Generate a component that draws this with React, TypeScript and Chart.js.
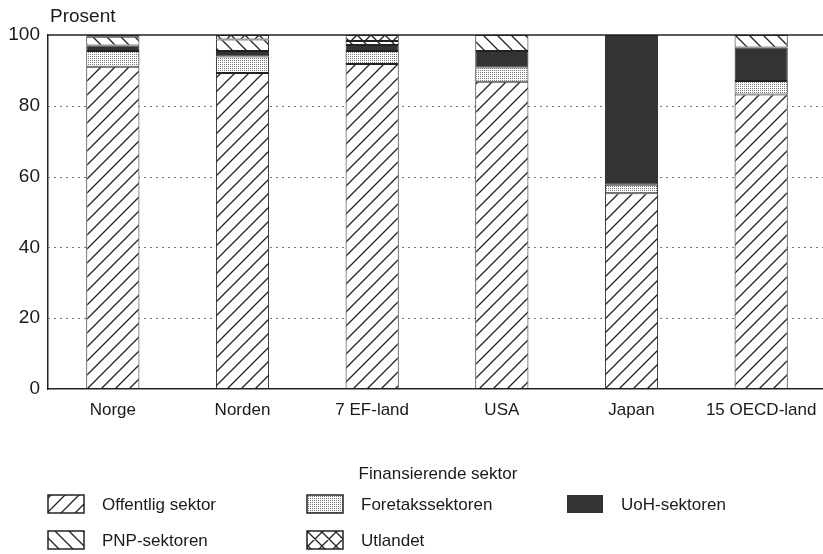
import React, { useEffect, useRef } from "react";
import { Chart, registerables } from "chart.js";
Chart.register(...registerables);

const categories = ["Norge", "Norden", "7 EF-land", "USA", "Japan", "15 OECD-land"];
const offentlig = [91.0, 89.3, 91.8, 86.8, 55.3, 83.2];
const foretak = [4.5, 4.6, 3.7, 4.0, 2.4, 3.8];
const uoh = [1.5, 1.6, 1.7, 4.7, 42.3, 9.5];
const pnp = [2.5, 3.2, 1.1, 4.5, 0, 3.5];
const utlandet = [0.5, 1.3, 1.7, 0, 0, 0];
const seriesNames = ["Offentlig sektor", "Foretakssektoren", "UoH-sektoren", "PNP-sektoren", "Utlandet"];
const yMin = 0;
const yMax = 100;
const yStep = 20;
const yAxisTitle = "Prosent";
const legendTitle = "Finansierende sektor";

const FONT = "'Liberation Sans', Arial, sans-serif";
const TEXT = "#1a1a1a";
const LINE = "#222";

function makePattern(kind: string): CanvasPattern | string {
  if (kind === "solid") return "#333";
  const c = document.createElement("canvas");
  const ctx = c.getContext("2d")!;
  if (kind === "dots") {
    c.width = 2; c.height = 2;
    ctx.fillStyle = "#fff"; ctx.fillRect(0, 0, 2, 2);
    ctx.fillStyle = "#777"; ctx.fillRect(0, 0, 1, 1);
    return ctx.createPattern(c, "repeat")!;
  }
  const s = 14;
  c.width = s; c.height = s;
  ctx.fillStyle = "#fff"; ctx.fillRect(0, 0, s, s);
  ctx.strokeStyle = "#222"; ctx.lineWidth = 1.3;
  ctx.beginPath();
  if (kind === "fwd" || kind === "cross") {
    ctx.moveTo(0, s); ctx.lineTo(s, 0);
    ctx.moveTo(-1, 1); ctx.lineTo(1, -1);
    ctx.moveTo(s - 1, s + 1); ctx.lineTo(s + 1, s - 1);
  }
  if (kind === "back" || kind === "cross") {
    ctx.moveTo(0, 0); ctx.lineTo(s, s);
    ctx.moveTo(-1, s - 1); ctx.lineTo(1, s + 1);
    ctx.moveTo(s - 1, -1); ctx.lineTo(s + 1, 1);
  }
  ctx.stroke();
  return ctx.createPattern(c, "repeat")!;
}

export default function App() {
  const ref = useRef<HTMLCanvasElement>(null);
  useEffect(() => {
    const fills = [makePattern("fwd"), makePattern("dots"), makePattern("solid"), makePattern("back"), makePattern("cross")];
    const values = [offentlig, foretak, uoh, pnp, utlandet];

    const decor = {
      id: "decor",
      beforeDatasetsDraw(chart: any) {
        const { ctx, chartArea, scales } = chart;
        const y = scales.y;
        ctx.save();
        ctx.strokeStyle = "#777";
        ctx.lineWidth = 1;
        ctx.setLineDash([2, 4]);
        for (let v = yMin + yStep; v < yMax; v += yStep) {
          const py = Math.round(y.getPixelForValue(v)) + 0.5;
          ctx.beginPath();
          ctx.moveTo(chartArea.left, py);
          ctx.lineTo(chartArea.right, py);
          ctx.stroke();
        }
        ctx.setLineDash([]);
        ctx.strokeStyle = LINE;
        ctx.lineWidth = 1.5;
        const top = y.getPixelForValue(yMax);
        ctx.beginPath();
        ctx.moveTo(chartArea.left, top);
        ctx.lineTo(chart.width, top);
        ctx.stroke();
        ctx.restore();
      },
      afterDraw(chart: any) {
        const { ctx } = chart;
        ctx.save();
        ctx.fillStyle = TEXT;
        ctx.textBaseline = "middle";
        ctx.font = `19px ${FONT}`;
        ctx.textAlign = "left";
        ctx.fillText(yAxisTitle, 50, 17);
        ctx.font = `17px ${FONT}`;
        ctx.textAlign = "center";
        ctx.fillText(legendTitle, 438, 474);
        const cols = [48, 307, 567];
        const rows = [504, 540];
        ctx.textAlign = "left";
        seriesNames.forEach((name, k) => {
          const x = cols[k % 3];
          const yc = rows[Math.floor(k / 3)];
          ctx.fillStyle = fills[k] as any;
          ctx.fillRect(x, yc - 9, 36, 18);
          if (k !== 2) {
            ctx.strokeStyle = LINE;
            ctx.lineWidth = 1.5;
            ctx.strokeRect(x, yc - 9, 36, 18);
          }
          ctx.fillStyle = TEXT;
          ctx.fillText(name, x + 54, yc + 1);
        });
        ctx.restore();
      },
    };

    const chart = new Chart(ref.current!, {
      type: "bar",
      data: {
        labels: categories,
        datasets: values.map((d, i) => ({
          label: seriesNames[i],
          data: d,
          backgroundColor: fills[i] as any,
          borderColor: LINE,
          borderWidth: 1,
          borderSkipped: false,
          barPercentage: 0.41,
          categoryPercentage: 1,
        })),
      },
      options: {
        responsive: false,
        animation: false,
        devicePixelRatio: 1,
        layout: { padding: { top: 35, right: 4, left: 0, bottom: 0 } },
        plugins: { legend: { display: false }, tooltip: { enabled: false } },
        scales: {
          x: {
            stacked: true,
            grid: { display: false, drawTicks: false },
            border: { display: true, color: LINE, width: 1.5 },
            ticks: { color: TEXT, font: { family: FONT, size: 17 }, padding: 11, maxRotation: 0, autoSkip: false },
            afterFit: (s: any) => { s.height = 165; },
          },
          y: {
            stacked: true,
            min: yMin,
            max: yMax,
            grid: { display: false, drawTicks: false },
            border: { display: true, color: LINE, width: 1.5 },
            ticks: { stepSize: yStep, color: TEXT, font: { family: FONT, size: 19 }, padding: 8 },
            afterFit: (s: any) => { s.width = 48; },
          },
        },
      },
      plugins: [decor],
    });
    return () => chart.destroy();
  }, []);

  return (
    <div style={{ position: "fixed", left: 0, top: 0, width: 823, height: 554, overflow: "hidden", background: "#fff" }}>
      <canvas ref={ref} width={830} height={554} style={{ display: "block" }} />
    </div>
  );
}
